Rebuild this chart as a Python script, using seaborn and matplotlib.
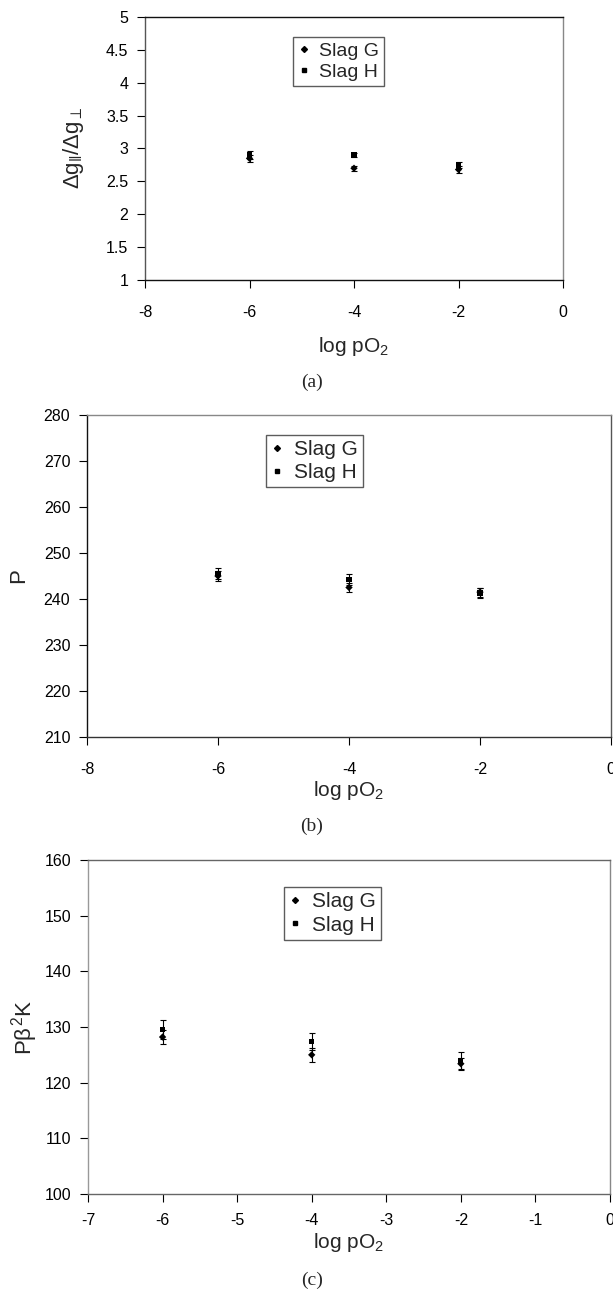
import matplotlib
matplotlib.use("Agg")
import matplotlib.pyplot as plt
import seaborn as sns
import pandas as pd
from matplotlib.lines import Line2D

# ---------------- data ----------------
x_log_po2 = [-6, -4, -2]
series = ["Slag G", "Slag H"]

# (a) Δg||/Δg⊥
a_slag_g = [2.85, 2.70, 2.68]
a_slag_g_err = [0.05, 0.04, 0.05]
a_slag_h = [2.90, 2.90, 2.75]
a_slag_h_err = [0.06, 0.03, 0.05]

# (b) P
b_slag_g = [245.0, 242.5, 241.5]
b_slag_g_err = [1.0, 1.0, 1.0]
b_slag_h = [245.5, 244.3, 241.3]
b_slag_h_err = [1.2, 1.2, 1.0]

# (c) Pβ²K
c_slag_g = [128.2, 125.0, 123.4]
c_slag_g_err = [1.2, 1.2, 1.1]
c_slag_h = [129.5, 127.4, 124.0]
c_slag_h_err = [1.7, 1.6, 1.5]

a_yticks = [1, 1.5, 2, 2.5, 3, 3.5, 4, 4.5, 5]
b_yticks = [210, 220, 230, 240, 250, 260, 270, 280]
c_yticks = [100, 110, 120, 130, 140, 150, 160]
ab_xticks = [-8, -6, -4, -2, 0]
c_xticks = [-7, -6, -5, -4, -3, -2, -1, 0]

# ---------------- style ----------------
sns.set_theme(style="white")
plt.rcParams["font.family"] = ["Liberation Sans", "DejaVu Sans"]
plt.rcParams["mathtext.fontset"] = "custom"
plt.rcParams["mathtext.rm"] = "Liberation Sans"
plt.rcParams["mathtext.it"] = "Liberation Sans"
plt.rcParams["mathtext.bf"] = "Liberation Sans:bold"

W, H = 613, 1290
fig = plt.figure(figsize=(W / 100, H / 100), dpi=100)


def px_axes(l, r, t, b):
    return fig.add_axes([l / W, 1 - b / H, (r - l) / W, (b - t) / H])


def make_df(g, ge, h, he):
    return pd.DataFrame({
        "x": x_log_po2 * 2,
        "y": g + h,
        "err": ge + he,
        "series": [series[0]] * 3 + [series[1]] * 3,
    })


def draw(ax, df, xlim, ylim, xticks, yticks, tick_fs, spine_cols):
    for s in series:
        d = df[df.series == s]
        ax.errorbar(d.x, d.y, yerr=d.err, fmt="none", ecolor="black",
                    elinewidth=0.8, capsize=2.5, capthick=0.8, zorder=2)
    sns.scatterplot(data=df, x="x", y="y", style="series",
                    markers={"Slag G": "D", "Slag H": "s"},
                    color="black", s=14, linewidth=0,
                    legend=False, ax=ax, zorder=3)
    ax.set_xlim(*xlim)
    ax.set_ylim(*ylim)
    ax.set_xticks(xticks)
    ax.set_yticks(yticks)
    ax.set_xticklabels([f"{v:g}" for v in xticks])
    ax.set_yticklabels([f"{v:g}" for v in yticks])
    ax.tick_params(axis="both", direction="out", length=6, width=0.8,
                   colors="black", labelsize=tick_fs, left=True, bottom=True)
    ax.tick_params(axis="x", pad=12)
    ax.tick_params(axis="y", pad=6)
    for k, c in spine_cols.items():
        ax.spines[k].set_color(c)
        ax.spines[k].set_linewidth(1.0)
    ax.set_xlabel("")
    ax.set_ylabel("")


def legend(ax, l, r, t, b, fs):
    handles = [
        Line2D([], [], marker="D", color="black", linestyle="none", markersize=3),
        Line2D([], [], marker="s", color="black", linestyle="none", markersize=3.5),
    ]
    leg = ax.legend(handles, series, fontsize=fs, frameon=True, fancybox=False,
                    loc="center", bbox_to_anchor=(((l + r) / 2) / W, 1 - ((t + b) / 2) / H),
                    bbox_transform=fig.transFigure, handlelength=0.6,
                    handletextpad=0.5, borderpad=0.25, labelspacing=0.2,
                    borderaxespad=0)
    leg.get_frame().set_edgecolor("#333333")
    leg.get_frame().set_linewidth(1.0)


# ---------- (a) ----------
ax_a = px_axes(145, 563, 17, 280)
draw(ax_a, make_df(a_slag_g, a_slag_g_err, a_slag_h, a_slag_h_err),
     (-8, 0), (1, 5), ab_xticks, a_yticks, 11.5,
     {"top": "#111111", "bottom": "#111111", "left": "#555555", "right": "#888888"})
legend(ax_a, 289, 388, 32, 91, 14)
fig.text(354 / W, 1 - 346 / H, r"log pO$_2$", ha="center", va="center", fontsize=15)
fig.text(73 / W, 1 - 148 / H, r"$\Delta$g$_{\Vert}$/$\Delta$g$_{\perp}$",
         ha="center", va="center", rotation=90, fontsize=16,
         family=["Liberation Sans", "DejaVu Sans"])
fig.text(312 / W, 1 - 382 / H, "(a)", ha="center", va="center", fontsize=14,
         family=["Liberation Serif", "DejaVu Serif"])

# ---------- (b) ----------
ax_b = px_axes(87, 611, 415, 737)
draw(ax_b, make_df(b_slag_g, b_slag_g_err, b_slag_h, b_slag_h_err),
     (-8, 0), (210, 280), ab_xticks, b_yticks, 11.5,
     {"top": "#888888", "bottom": "#333333", "left": "#111111", "right": "#555555"})
legend(ax_b, 260, 369, 428, 494, 15)
fig.text(349 / W, 1 - 790 / H, r"log pO$_2$", ha="center", va="center", fontsize=15)
fig.text(19 / W, 1 - 576 / H, "P", ha="center", va="center", rotation=90, fontsize=16)
fig.text(312 / W, 1 - 826 / H, "(b)", ha="center", va="center", fontsize=14,
         family=["Liberation Serif", "DejaVu Serif"])

# ---------- (c) ----------
ax_c = px_axes(88, 610, 860, 1194)
draw(ax_c, make_df(c_slag_g, c_slag_g_err, c_slag_h, c_slag_h_err),
     (-7, 0), (100, 160), c_xticks, c_yticks, 11.5,
     {"top": "#666666", "bottom": "#666666", "left": "#999999", "right": "#888888"})
ax_c.tick_params(axis="x", pad=8)
legend(ax_c, 279, 386, 882, 945, 15)
fig.text(349 / W, 1 - 1243 / H, r"log pO$_2$", ha="center", va="center", fontsize=15)
fig.text(25 / W, 1 - 1027 / H, r"P$\beta^2$K", ha="center", va="center",
         rotation=90, fontsize=16)
fig.text(312 / W, 1 - 1280 / H, "(c)", ha="center", va="center", fontsize=14,
         family=["Liberation Serif", "DejaVu Serif"])

fig.savefig("out.png", dpi=100)
